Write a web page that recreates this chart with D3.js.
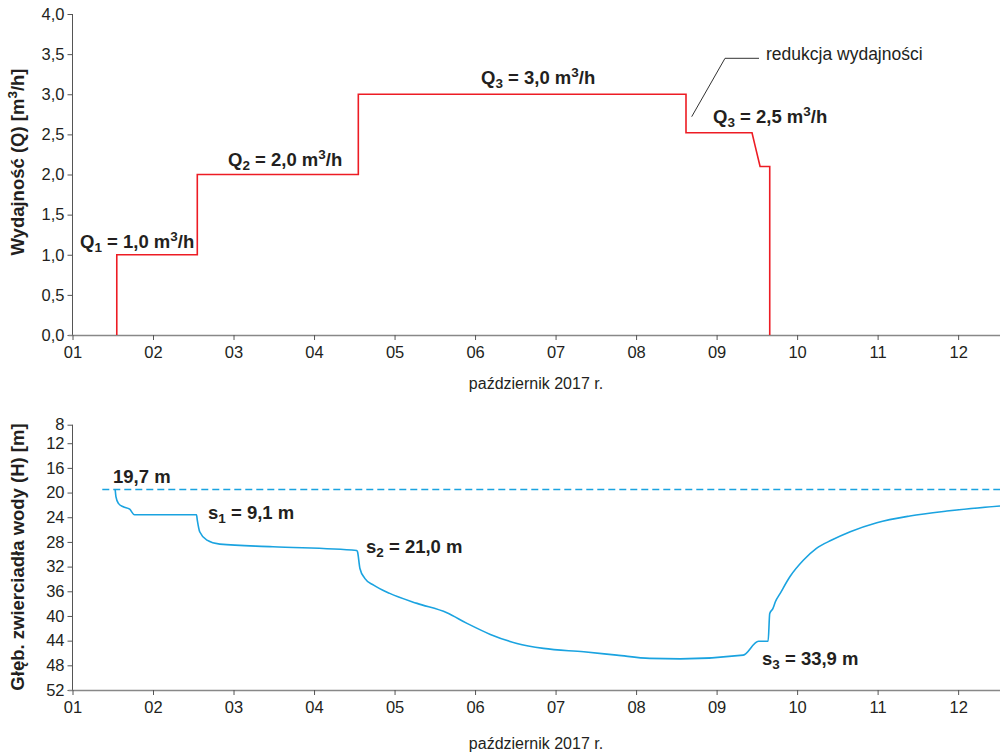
<!DOCTYPE html>
<html>
<head>
<meta charset="utf-8">
<script src="https://cdn.jsdelivr.net/npm/d3@7"></script>
<style>
  body { margin: 0; background: #fff; }
  svg { font-family: "Liberation Sans", Arial, sans-serif; }
  .axis path, .axis line { stroke: #555; stroke-width: 1; }
  .axis.x-axis path { stroke: #888; stroke-width: 1.5; }
  .axis text { font-size: 16.5px; fill: #231f20; font-family: "Liberation Sans", Arial, sans-serif; }
  .title { font-size: 16px; fill: #231f20; }
  .ytitle { font-size: 18.5px; font-weight: bold; fill: #231f20; }
  .label { font-size: 18.5px; font-weight: bold; fill: #231f20; }
</style>
</head>
<body>
<svg id="chart" width="1001" height="752"></svg>
<script>
// axis ticks
const dayTicks = [1, 2, 3, 4, 5, 6, 7, 8, 9, 10, 11, 12];
const dayTickLabels = ['01', '02', '03', '04', '05', '06', '07', '08', '09', '10', '11', '12'];
const qTicks = [0, 0.5, 1, 1.5, 2, 2.5, 3, 3.5, 4];
const qTickLabels = ['0,0', '0,5', '1,0', '1,5', '2,0', '2,5', '3,0', '3,5', '4,0'];
const hTicks = [9, 12, 16, 20, 24, 28, 32, 36, 40, 44, 48, 52];
const hTickLabels = ['8', '12', '16', '20', '24', '28', '32', '36', '40', '44', '48', '52'];

// pumping rate Q [m3/h] (day of October)
const qDays = [1.55, 1.55, 2.55, 2.55, 4.55, 4.55, 8.62, 8.62, 9.44, 9.48, 9.54, 9.66, 9.66];
const qValues = [0, 1, 1, 2, 2, 3, 3, 2.52, 2.52, 2.35, 2.1, 2.1, 0];

// water table depth H [m]
const staticLevel = 19.5;
const hDays = [1.53, 1.54, 1.57, 1.63, 1.71, 1.77, 2.54, 2.55, 2.58, 2.67, 2.83, 3.49, 4.53,
  4.54, 4.57, 4.63, 4.74, 4.94, 5.28, 5.65, 5.9, 6.19, 6.52, 6.85, 7.35, 7.76, 8.17, 8.55,
  9.33, 9.52, 9.64, 9.66, 9.7, 9.73, 9.79, 9.91, 10.08, 10.24, 10.43, 10.66, 10.99, 11.4,
  11.86, 12.52];
const hValues = [19.5, 20.7, 21.75, 22.3, 22.7, 23.6, 23.6, 24.45, 26.35, 27.7, 28.35, 28.78, 29.4,
  29.6, 32.3, 33.9, 35.0, 36.34, 37.96, 39.48, 41.2, 42.99, 44.45, 45.26, 45.81, 46.35, 46.88, 46.95,
  46.35, 44.1, 44.1, 39.6, 38.77, 37.7, 36.34, 33.65, 30.94, 29.04, 27.7, 26.35, 24.89, 23.8,
  23.0, 22.18];

const svg = d3.select('#chart');
svg.append('rect').attr('width', 1001).attr('height', 752).attr('fill', '#fff');

const xDomain = [1, 12.52];
const xRange = [72.5, 1000];

function addLabel(x, y, parts, cls) {
  const t = svg.append('text').attr('class', cls).attr('x', x).attr('y', y);
  parts.forEach(p => {
    const ts = t.append('tspan').text(p[0]);
    if (p[1] === 'sub') ts.attr('font-size', '13.5px').attr('dy', 4);
    if (p[1] === 'sup') ts.attr('font-size', '13.5px').attr('dy', -7);
    if (p[1] === 'subEnd') ts.attr('dy', -4);
    if (p[1] === 'supEnd') ts.attr('dy', 7);
  });
  return t;
}

function drawXAxis(x, y0) {
  const g = svg.append('g')
    .attr('class', 'x-axis axis')
    .attr('transform', `translate(0,${y0})`)
    .call(d3.axisBottom(x).tickValues(dayTicks).tickSize(5).tickPadding(6)
      .tickFormat((d, i) => dayTickLabels[i]));
  g.select('.domain').attr('d', `M${xRange[0] - 4},0.5H${xRange[1]}`);
}

// ---------- top chart: Q ----------
const xTop = d3.scaleLinear().domain(xDomain).range(xRange);
const yTop = d3.scaleLinear().domain([0, 4]).range([335, 14]);

svg.append('g')
  .attr('class', 'y-axis axis')
  .attr('transform', `translate(${xRange[0]},0)`)
  .call(d3.axisLeft(yTop).tickValues(qTicks).tickSize(5).tickPadding(3)
    .tickFormat((d, i) => qTickLabels[i]))
  .select('.domain').attr('d', `M0,${yTop(4)}V${yTop(0)}`);
drawXAxis(xTop, 335);

svg.append('path')
  .datum(qDays.map((d, i) => [d, qValues[i]]))
  .attr('fill', 'none')
  .attr('stroke', '#ed1c24')
  .attr('stroke-width', 1.6)
  .attr('d', d3.line().x(d => xTop(d[0])).y(d => yTop(d[1])));

addLabel(80, 248, [['Q'], ['1', 'sub'], [' = 1,0 m', 'subEnd'], ['3', 'sup'], ['/h', 'supEnd']], 'label');
addLabel(228, 166, [['Q'], ['2', 'sub'], [' = 2,0 m', 'subEnd'], ['3', 'sup'], ['/h', 'supEnd']], 'label');
addLabel(481, 84, [['Q'], ['3', 'sub'], [' = 3,0 m', 'subEnd'], ['3', 'sup'], ['/h', 'supEnd']], 'label');
addLabel(713, 123, [['Q'], ['3', 'sub'], [' = 2,5 m', 'subEnd'], ['3', 'sup'], ['/h', 'supEnd']], 'label');

svg.append('path')
  .attr('d', 'M691.7,116.7L725,58.3H759')
  .attr('fill', 'none')
  .attr('stroke', '#333')
  .attr('stroke-width', 1);
svg.append('text').attr('class', 'title').attr('x', 766).attr('y', 60)
  .style('font-size', '17.5px').text('redukcja wydajności');

svg.append('text').attr('class', 'title').attr('text-anchor', 'middle')
  .attr('x', 536).attr('y', 389).text('październik 2017 r.');
addLabel(0, 0, [['Wydajność (Q) [m'], ['3', 'sup'], ['/h]', 'supEnd']], 'ytitle')
  .attr('text-anchor', 'middle')
  .attr('transform', 'translate(24,162) rotate(-90)');

// ---------- bottom chart: H ----------
const xBot = d3.scaleLinear().domain(xDomain).range(xRange);
const yBot = d3.scaleLinear().domain([9, 52]).range([424.7, 690]);

svg.append('g')
  .attr('class', 'y-axis axis')
  .attr('transform', `translate(${xRange[0]},0)`)
  .call(d3.axisLeft(yBot).tickValues(hTicks).tickSize(5).tickPadding(3)
    .tickFormat((d, i) => hTickLabels[i]))
  .select('.domain').attr('d', `M0,${yBot(9)}V${yBot(52)}`);
drawXAxis(xBot, 690);

svg.append('line')
  .attr('x1', xBot(1.37)).attr('x2', xRange[1])
  .attr('y1', yBot(staticLevel)).attr('y2', yBot(staticLevel))
  .attr('stroke', '#1aa3e0')
  .attr('stroke-width', 1.3)
  .attr('stroke-dasharray', '7,4');

svg.append('path')
  .datum(hDays.map((d, i) => [d, hValues[i]]))
  .attr('fill', 'none')
  .attr('stroke', '#1aa3e0')
  .attr('stroke-width', 1.6)
  .attr('d', d3.line().x(d => xBot(d[0])).y(d => yBot(d[1])).curve(d3.curveMonotoneX));

addLabel(113, 483, [['19,7 m']], 'label');
addLabel(208, 519, [['s'], ['1', 'sub'], [' = 9,1 m', 'subEnd']], 'label');
addLabel(366, 553, [['s'], ['2', 'sub'], [' = 21,0 m', 'subEnd']], 'label');
addLabel(762, 665, [['s'], ['3', 'sub'], [' = 33,9 m', 'subEnd']], 'label');

svg.append('text').attr('class', 'title').attr('text-anchor', 'middle')
  .attr('x', 536).attr('y', 749).text('październik 2017 r.');
svg.append('text').attr('class', 'ytitle').attr('text-anchor', 'middle')
  .attr('transform', 'translate(24,557) rotate(-90)')
  .text('Głęb. zwierciadła wody (H) [m]');
</script>
</body>
</html>
